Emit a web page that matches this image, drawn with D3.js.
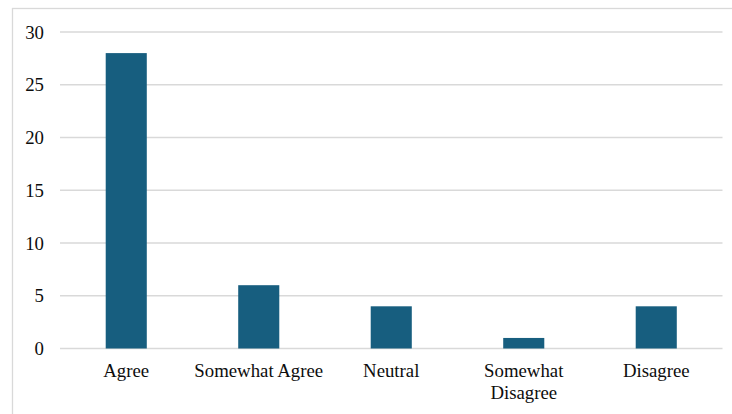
<!DOCTYPE html>
<html>
<head>
<meta charset="utf-8">
<script src="https://cdn.jsdelivr.net/npm/d3@7"></script>
<style>
  html, body { margin: 0; padding: 0; background: #fff; }
  svg { display: block; }
</style>
</head>
<body>
<svg id="chart" width="732" height="414"></svg>
<script>
// Survey responses per answer category
const categories = ["Agree", "Somewhat Agree", "Neutral", "Somewhat Disagree", "Disagree"];
const counts = [28, 6, 4, 1, 4];
const yTicks = [0, 5, 10, 15, 20, 25, 30];

const margin = { top: 32, left: 60 };
const plotRight = 722.5;
const svg = d3.select("#chart");
const fontFamily = "'Liberation Serif', 'Times New Roman', serif";
const fontSize = 18.8;

// Chart area frame (extends past the bottom and right edges)
svg.append("rect")
  .attr("x", 12.5).attr("y", 8.5)
  .attr("width", 760).attr("height", 440)
  .attr("fill", "none")
  .attr("stroke", "#d9d9d9")
  .attr("stroke-width", 1.3);

const x = d3.scaleBand()
  .domain(categories)
  .range([margin.left, plotRight])
  .paddingInner(0.69)
  .paddingOuter(0.345);

const y = d3.scaleLinear()
  .domain([0, 30])
  .range([348.5, margin.top]);

// Horizontal gridlines
svg.append("g")
  .selectAll("line")
  .data(yTicks)
  .join("line")
  .attr("x1", margin.left)
  .attr("x2", plotRight)
  .attr("y1", d => y(d))
  .attr("y2", d => y(d))
  .attr("stroke", "#d9d9d9")
  .attr("stroke-width", 1.6);

// Y axis labels
const yAxis = d3.axisLeft(y).tickValues(yTicks).tickSize(0).tickPadding(16);
svg.append("g")
  .attr("transform", `translate(${margin.left},0)`)
  .call(yAxis)
  .call(g => g.select(".domain").remove())
  .call(g => g.selectAll("text")
    .attr("font-family", fontFamily)
    .attr("font-size", fontSize)
    .attr("fill", "#0d0d0d"));

// Bars
svg.append("g")
  .selectAll("rect")
  .data(categories)
  .join("rect")
  .attr("x", d => x(d))
  .attr("width", x.bandwidth())
  .attr("y", (d, i) => y(counts[i]))
  .attr("height", (d, i) => y(0) - y(counts[i]))
  .attr("fill", "#175e7f");

// Category labels, wrapped where a line would not fit the band
const wrapWidth = 132;
const labels = svg.append("g")
  .selectAll("text")
  .data(categories)
  .join("text")
  .attr("text-anchor", "middle")
  .attr("font-family", fontFamily)
  .attr("font-size", fontSize)
  .attr("fill", "#0d0d0d");

labels.each(function(d) {
  const t = d3.select(this);
  const cx = x(d) + x.bandwidth() / 2;
  const words = d.split(" ");
  let lines = [d];
  t.text(d);
  if (this.getComputedTextLength() > wrapWidth && words.length > 1) {
    lines = words;
  }
  t.text(null);
  lines.forEach((ln, i) => {
    t.append("tspan")
      .attr("x", cx)
      .attr("y", 377 + i * 21.6)
      .text(ln);
  });
});
</script>
</body>
</html>
